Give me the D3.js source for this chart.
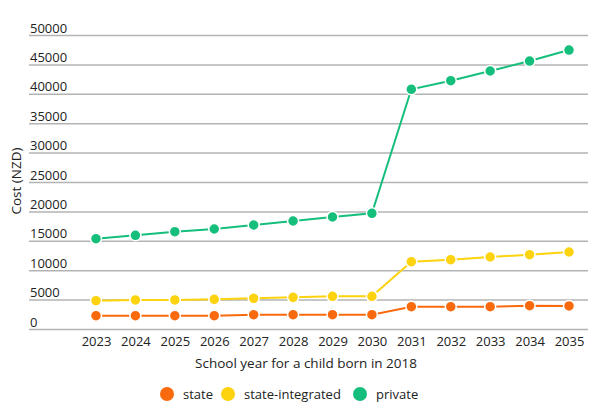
<!DOCTYPE html>
<html>
<head>
<meta charset="UTF-8">
<title>School cost</title>
<style>
  body { margin: 0; background: #fff; }
  text { font-family: "Open Sans", sans-serif; fill: #222; }
</style>
</head>
<body>
<script src="https://d3js.org/d3.v7.min.js"></script>
<script>
// data
var years = ["2023","2024","2025","2026","2027","2028","2029","2030","2031","2032","2033","2034","2035"];
var yTicks = [0, 5000, 10000, 15000, 20000, 25000, 30000, 35000, 40000, 45000, 50000];
var seriesNames = ["state", "state-integrated", "private"];
var stateCost = [2350, 2350, 2350, 2350, 2520, 2520, 2520, 2520, 3880, 3880, 3880, 4050, 4000];
var integratedCost = [4900, 5020, 5020, 5130, 5300, 5470, 5650, 5650, 11530, 11870, 12330, 12720, 13180];
var privateCost = [15440, 16020, 16630, 17090, 17770, 18450, 19130, 19760, 40850, 42310, 43960, 45660, 47530];
var colors = ["#f96a0e", "#fdd20e", "#15bf7b"];

var width = 600, height = 411;
var svg = d3.select("body").append("svg")
    .attr("width", width)
    .attr("height", height);

var x = d3.scalePoint().domain(years).range([96, 569]);
var y = d3.scaleLinear().domain([0, 50000]).range([329.5, 35.5]);

// grid lines + labels above them
var grid = svg.append("g");
yTicks.forEach(function(t){
    grid.append("line")
        .attr("x1", 29).attr("x2", 588)
        .attr("y1", y(t)).attr("y2", y(t))
        .attr("stroke", "#b3b3b3")
        .attr("stroke-width", 1.5);
    grid.append("text")
        .attr("x", 30)
        .attr("y", y(t) - 3)
        .attr("font-size", 13)
        .text(t);
});

// x axis labels
svg.append("g")
    .attr("transform", "translate(0," + 329.5 + ")")
    .call(d3.axisBottom(x).tickSize(0).tickPadding(7))
    .call(function(g){ g.select(".domain").remove(); })
    .selectAll("text")
    .attr("font-size", 13)
    .attr("font-family", "Open Sans, sans-serif")
    .attr("fill", "#222");

svg.append("text")
    .attr("x", 306).attr("y", 368)
    .attr("text-anchor", "middle")
    .attr("font-size", 13.5)
    .text("School year for a child born in 2018");

svg.append("text")
    .attr("transform", "translate(21,181) rotate(-90)")
    .attr("text-anchor", "middle")
    .attr("font-size", 13.5)
    .text("Cost (NZD)");

var allSeries = [stateCost, integratedCost, privateCost];
var line = d3.line()
    .x(function(d, i){ return x(years[i]); })
    .y(function(d){ return y(d); });

allSeries.forEach(function(vals, s){
    svg.append("path")
        .datum(vals)
        .attr("d", line)
        .attr("fill", "none")
        .attr("stroke", colors[s])
        .attr("stroke-width", 2);
    svg.append("g").selectAll("circle")
        .data(vals)
        .enter().append("circle")
        .attr("cx", function(d, i){ return x(years[i]); })
        .attr("cy", function(d){ return y(d); })
        .attr("r", 5.5)
        .attr("fill", colors[s])
        .attr("stroke", "#fff")
        .attr("stroke-width", 1.5);
});

// legend
var legendX = [167, 228, 360];
seriesNames.forEach(function(name, i){
    svg.append("circle")
        .attr("cx", legendX[i]).attr("cy", 394)
        .attr("r", 7)
        .attr("fill", colors[i]);
    svg.append("text")
        .attr("x", legendX[i] + 16).attr("y", 398.5)
        .attr("font-size", 13)
        .attr("fill", "#555")
        .text(name);
});
</script>
</body>
</html>
